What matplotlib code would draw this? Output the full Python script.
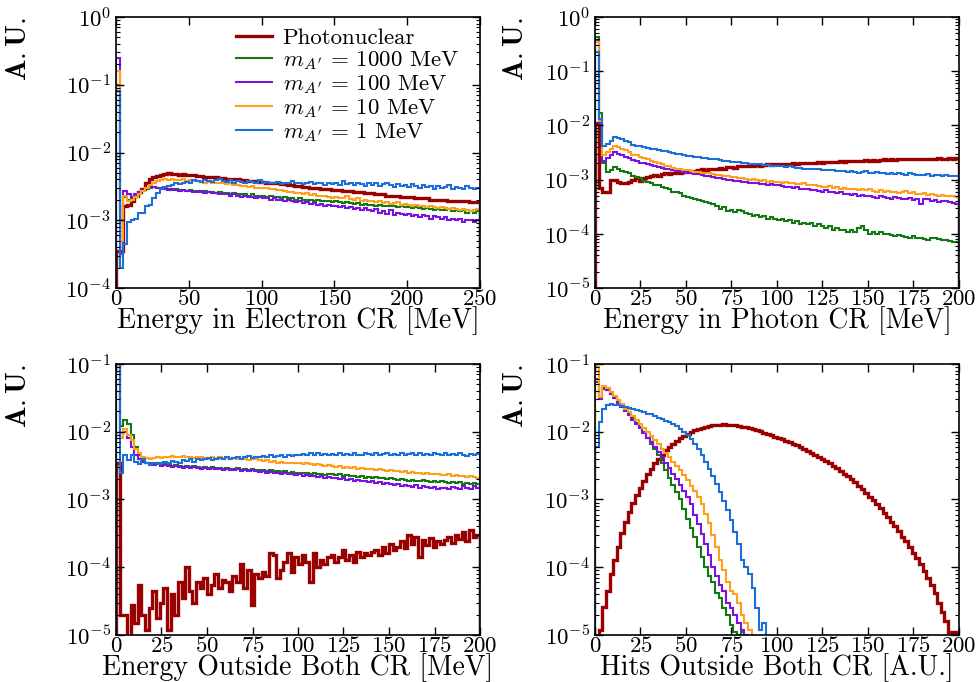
import numpy as np
import matplotlib
matplotlib.use('Agg')
import matplotlib.pyplot as plt
from matplotlib.ticker import LogLocator

plt.rcParams['font.family'] = 'serif'
plt.rcParams['font.serif'] = ['cmr10', 'DejaVu Serif']
plt.rcParams['mathtext.fontset'] = 'cm'
plt.rcParams['axes.formatter.use_mathtext'] = True
plt.rcParams['axes.unicode_minus'] = False

# Histogram contents in units of 1e-3 (A.U.)
labels = ['Photonuclear', r"$m_{A'}$ = 1000 MeV", r"$m_{A'}$ = 100 MeV",
          r"$m_{A'}$ = 10 MeV", r"$m_{A'}$ = 1 MeV"]
colors = ['#9a0000', '#137a13', '#7a12e0', '#ffa01a', '#1a70d8']
widths = [2.4, 1.5, 1.5, 1.5, 1.5]

# --- Energy in Electron CR, 2.5 MeV bins, 0-250 MeV
ecr_width = 2.5
ecr_pn = [0.35, 0.35, 1.6, 1.7, 1.9, 2.3, 2.6, 2.9, 3.5, 4.0,
          4.3, 4.5, 4.7, 4.8, 4.9, 4.8, 4.8, 4.7, 4.8, 4.7,
          4.6, 4.6, 4.5, 4.5, 4.4, 4.4, 4.3, 4.3, 4.2, 4.2,
          4.1, 4.1, 4.0, 4.0, 3.9, 3.9, 3.8, 3.8, 3.8, 3.7,
          3.7, 3.6, 3.6, 3.5, 3.5, 3.4, 3.4, 3.3, 3.3, 3.2,
          3.2, 3.1, 3.1, 3.0, 3.0, 3.0, 2.9, 2.9, 2.9, 2.8,
          2.8, 2.8, 2.7, 2.7, 2.7, 2.6, 2.6, 2.6, 2.5, 2.5,
          2.5, 2.4, 2.4, 2.4, 2.3, 2.3, 2.3, 2.3, 2.2, 2.2,
          2.2, 2.2, 2.1, 2.1, 2.1, 2.1, 2.0, 2.0, 2.0, 2.0,
          2.0, 1.95, 1.95, 1.95, 1.9, 1.9, 1.9, 1.85, 1.85, 1.85]
ecr_1000 = [100, 1.0, 2.2, 2.0, 2.1, 2.3, 2.5, 2.7, 2.9, 3.0,
            3.1, 3.0, 3.0, 2.9, 2.9, 2.8, 2.9, 2.8, 2.8, 2.7,
            2.8, 2.7, 2.7, 2.6, 2.7, 2.6, 2.6, 2.5, 2.6, 2.5,
            2.5, 2.4, 2.5, 2.4, 2.4, 2.4, 2.3, 2.4, 2.3, 2.3,
            2.3, 2.2, 2.3, 2.2, 2.2, 2.1, 2.2, 2.1, 2.1, 2.0,
            2.1, 2.0, 2.0, 2.0, 1.95, 2.0, 1.9, 1.95, 1.9, 1.85,
            1.9, 1.85, 1.8, 1.85, 1.8, 1.75, 1.8, 1.7, 1.75, 1.7,
            1.7, 1.65, 1.7, 1.6, 1.65, 1.6, 1.6, 1.55, 1.6, 1.55,
            1.55, 1.5, 1.55, 1.5, 1.45, 1.5, 1.45, 1.4, 1.45, 1.4,
            1.4, 1.45, 1.35, 1.4, 1.35, 1.4, 1.3, 1.35, 1.3, 1.35]
ecr_100 = [250, 0.32, 2.7, 2.4, 2.2, 2.4, 2.6, 2.8, 3.0, 3.1,
           3.1, 3.0, 3.0, 2.9, 2.8, 2.9, 2.8, 2.7, 2.8, 2.7,
           2.7, 2.6, 2.6, 2.7, 2.5, 2.6, 2.5, 2.5, 2.4, 2.4,
           2.4, 2.3, 2.4, 2.3, 2.2, 2.3, 2.2, 2.2, 2.1, 2.2,
           2.1, 2.1, 2.0, 2.1, 2.0, 2.0, 1.9, 2.0, 1.9, 1.85,
           1.9, 1.8, 1.85, 1.75, 1.8, 1.7, 1.75, 1.65, 1.7, 1.6,
           1.65, 1.55, 1.6, 1.5, 1.55, 1.45, 1.5, 1.4, 1.5, 1.4,
           1.35, 1.45, 1.3, 1.35, 1.25, 1.4, 1.2, 1.3, 1.25, 1.2,
           1.25, 1.15, 1.2, 1.1, 1.2, 1.15, 1.05, 1.15, 1.1, 1.05,
           1.1, 1.0, 1.05, 1.0, 1.05, 0.95, 1.0, 1.0, 0.95, 1.0]
ecr_10 = [160, 0.5, 2.3, 1.9, 2.0, 2.2, 2.4, 2.7, 3.0, 3.3,
          3.6, 3.8, 3.9, 4.0, 3.9, 4.0, 3.9, 3.9, 4.0, 3.8,
          3.9, 3.8, 3.8, 3.7, 3.6, 3.7, 3.5, 3.6, 3.5, 3.5,
          3.4, 3.5, 3.3, 3.3, 3.2, 3.2, 3.1, 3.2, 3.0, 3.0,
          2.95, 3.0, 2.85, 2.9, 2.75, 2.8, 2.7, 2.6, 2.65, 2.5,
          2.55, 2.45, 2.5, 2.35, 2.4, 2.3, 2.25, 2.3, 2.2, 2.15,
          2.2, 2.1, 2.15, 2.3, 2.05, 2.0, 2.1, 1.95, 2.0, 1.9,
          1.95, 1.85, 1.9, 1.8, 1.85, 1.75, 1.8, 1.85, 1.7, 1.75,
          1.7, 1.65, 1.7, 1.6, 1.65, 1.55, 1.6, 1.55, 1.5, 1.55,
          1.5, 1.45, 1.5, 1.45, 1.4, 1.45, 1.4, 1.35, 1.4, 1.45]
ecr_1 = [80, 0.2, 0.45, 0.95, 1.0, 1.05, 1.3, 1.3, 1.6, 1.7,
         2.1, 2.5, 2.9, 3.1, 3.2, 3.3, 3.5, 3.4, 3.6, 3.7,
         3.6, 3.9, 3.8, 3.7, 3.9, 3.8, 3.7, 3.9, 4.0, 3.8,
         3.7, 3.9, 3.6, 3.8, 3.7, 3.6, 3.8, 3.7, 3.6, 3.9,
         3.5, 3.7, 3.6, 3.5, 3.7, 3.4, 3.6, 3.5, 3.8, 3.5,
         3.6, 3.4, 3.5, 3.7, 3.4, 3.5, 3.6, 3.3, 3.5, 3.4,
         3.6, 3.3, 3.8, 3.4, 3.5, 3.3, 3.6, 3.4, 3.2, 3.5,
         3.3, 3.5, 3.2, 3.4, 3.6, 3.3, 3.1, 3.4, 3.2, 3.3,
         3.1, 3.4, 3.2, 3.0, 3.3, 3.1, 3.2, 2.9, 3.2, 3.0,
         3.1, 3.3, 2.9, 3.1, 3.0, 2.9, 3.2, 3.0, 2.9, 3.0]

# --- Energy in Photon CR, 2 MeV bins, 0-200 MeV
pcr_width = 2.0
pcr_pn = [11, 0.7, 0.6, 0.6, 1.0, 1.0, 0.9, 0.85, 0.85, 0.9,
          1.0, 1.05, 0.95, 1.05, 1.1, 1.15, 1.2, 1.15, 1.25, 1.3,
          1.25, 1.3, 1.35, 1.3, 1.4, 1.45, 1.4, 1.45, 1.5, 1.55,
          1.5, 1.55, 1.6, 1.6, 1.65, 1.6, 1.7, 1.7, 1.65, 1.75,
          1.75, 1.8, 1.75, 1.8, 1.85, 1.8, 1.85, 1.9, 1.85, 1.9,
          1.9, 1.95, 1.9, 1.95, 2.0, 1.95, 2.0, 2.05, 2.0, 2.05,
          2.05, 2.1, 2.05, 2.1, 2.15, 2.1, 2.15, 2.2, 2.15, 2.2,
          2.2, 2.25, 2.2, 2.25, 2.3, 2.25, 2.3, 2.25, 2.3, 2.35,
          2.3, 2.35, 2.3, 2.35, 2.4, 2.35, 2.4, 2.35, 2.4, 2.45,
          2.4, 2.45, 2.4, 2.45, 2.5, 2.45, 2.45, 2.5, 2.45, 2.5]
pcr_1000 = [430, 17, 2.0, 1.4, 1.5, 1.7, 1.6, 1.45, 1.4, 1.3,
            1.15, 1.1, 1.05, 0.95, 0.9, 0.85, 0.8, 0.78, 0.72, 0.7,
            0.66, 0.6, 0.58, 0.56, 0.5, 0.48, 0.46, 0.44, 0.42, 0.4,
            0.39, 0.37, 0.35, 0.33, 0.29, 0.31, 0.26, 0.28, 0.25, 0.27,
            0.26, 0.24, 0.23, 0.21, 0.22, 0.2, 0.21, 0.19, 0.2, 0.19,
            0.18, 0.19, 0.17, 0.18, 0.16, 0.17, 0.15, 0.16, 0.15, 0.16,
            0.14, 0.15, 0.14, 0.13, 0.14, 0.12, 0.13, 0.12, 0.12, 0.11,
            0.12, 0.11, 0.13, 0.14, 0.12, 0.1, 0.11, 0.1, 0.11, 0.1,
            0.1, 0.095, 0.09, 0.095, 0.09, 0.088, 0.085, 0.09, 0.082, 0.085,
            0.08, 0.078, 0.082, 0.085, 0.08, 0.076, 0.078, 0.075, 0.072, 0.07]
pcr_100 = [380, 11, 2.2, 2.5, 2.8, 3.2, 3.0, 2.8, 2.6, 2.5,
           2.3, 2.2, 2.05, 2.0, 1.9, 1.85, 1.75, 1.7, 1.65, 1.6,
           1.55, 1.5, 1.45, 1.42, 1.4, 1.35, 1.3, 1.28, 1.25, 1.2,
           1.18, 1.15, 1.1, 1.08, 1.05, 1.02, 1.0, 0.98, 0.96, 0.95,
           0.92, 0.9, 0.88, 0.85, 0.87, 0.83, 0.84, 0.8, 0.82, 0.79,
           0.8, 0.76, 0.74, 0.72, 0.7, 0.72, 0.68, 0.66, 0.68, 0.64,
           0.65, 0.62, 0.6, 0.63, 0.58, 0.6, 0.56, 0.58, 0.55, 0.54,
           0.52, 0.55, 0.5, 0.52, 0.49, 0.5, 0.48, 0.46, 0.5, 0.47,
           0.46, 0.44, 0.47, 0.45, 0.43, 0.44, 0.46, 0.42, 0.44, 0.36,
           0.43, 0.44, 0.4, 0.42, 0.39, 0.4, 0.41, 0.38, 0.37, 0.36]
pcr_10 = [340, 12, 2.8, 3.2, 3.6, 4.2, 4.0, 3.7, 3.5, 3.2,
          2.9, 2.8, 2.6, 2.5, 2.35, 2.2, 2.1, 2.0, 1.9, 1.8,
          1.75, 1.65, 1.6, 1.55, 1.5, 1.5, 1.45, 1.4, 1.38, 1.35,
          1.3, 1.32, 1.25, 1.2, 1.22, 1.15, 1.18, 1.1, 1.12, 1.05,
          1.08, 1.02, 1.0, 1.03, 0.98, 0.95, 0.97, 0.92, 0.94, 0.9,
          0.92, 0.88, 0.9, 0.85, 0.88, 0.83, 0.82, 0.85, 0.8, 0.78,
          0.8, 0.76, 0.74, 0.72, 0.75, 0.7, 0.72, 0.68, 0.7, 0.67,
          0.68, 0.66, 0.64, 0.67, 0.63, 0.66, 0.62, 0.6, 0.64, 0.6,
          0.62, 0.58, 0.6, 0.57, 0.59, 0.62, 0.56, 0.58, 0.55, 0.54,
          0.56, 0.53, 0.55, 0.52, 0.5, 0.52, 0.5, 0.49, 0.5, 0.48]
pcr_1 = [230, 13, 4.2, 4.5, 5.2, 6.2, 5.8, 5.5, 5.2, 5.0,
         4.4, 4.2, 4.1, 4.0, 3.8, 3.7, 3.6, 3.5, 3.4, 3.3,
         3.2, 3.1, 3.0, 2.95, 2.85, 2.75, 2.7, 2.65, 2.6, 2.55,
         2.5, 2.45, 2.4, 2.35, 2.3, 2.25, 2.2, 2.15, 2.1, 2.1,
         2.05, 2.0, 1.95, 1.95, 1.9, 1.9, 1.85, 1.85, 1.8, 1.8,
         1.8, 1.75, 1.7, 1.75, 1.7, 1.65, 1.65, 1.6, 1.6, 1.58,
         1.55, 1.58, 1.5, 1.52, 1.48, 1.5, 1.45, 1.42, 1.45, 1.4,
         1.42, 1.38, 1.35, 1.4, 1.45, 1.35, 1.3, 1.38, 1.32, 1.3,
         1.28, 1.32, 1.25, 1.3, 1.28, 1.22, 1.3, 1.25, 1.2, 1.24,
         1.22, 1.25, 1.18, 1.2, 1.22, 1.15, 1.2, 1.18, 1.15, 1.18]

# --- Energy outside both CR, 2 MeV bins, 0-200 MeV
out_width = 2.0
out_pn = [3.5, 0.02, 0.02, 0.0, 0.028, 0.015, 0.055, 0.02, 0.012, 0.025,
          0.045, 0.018, 0.03, 0.05, 0.012, 0.04, 0.02, 0.06, 0.035, 0.1,
          0.045, 0.03, 0.06, 0.05, 0.07, 0.04, 0.055, 0.08, 0.05, 0.065,
          0.06, 0.045, 0.075, 0.06, 0.11, 0.05, 0.09, 0.028, 0.08, 0.07,
          0.085, 0.075, 0.16, 0.15, 0.07, 0.09, 0.12, 0.16, 0.085, 0.14,
          0.11, 0.15, 0.12, 0.06, 0.16, 0.1, 0.13, 0.11, 0.14, 0.15,
          0.12, 0.14, 0.18, 0.13, 0.15, 0.12, 0.17, 0.14, 0.16, 0.15,
          0.17, 0.18, 0.15, 0.2, 0.16, 0.22, 0.18, 0.2, 0.24, 0.19,
          0.3, 0.22, 0.28, 0.14, 0.25, 0.21, 0.27, 0.2, 0.24, 0.22,
          0.25, 0.28, 0.23, 0.3, 0.26, 0.33, 0.24, 0.35, 0.28, 0.3]
out_1000 = [300, 12, 15, 13, 9, 6, 4.5, 3.8, 3.5, 3.4,
            3.3, 3.4, 3.2, 3.3, 3.2, 3.1, 3.2, 3.1, 3.0, 3.1,
            3.0, 3.1, 3.0, 2.95, 3.0, 2.9, 3.0, 2.9, 2.95, 2.85,
            2.9, 2.85, 2.8, 2.9, 2.75, 2.8, 2.7, 2.8, 2.75, 2.7,
            2.7, 2.65, 2.7, 2.6, 2.65, 2.55, 2.6, 2.5, 2.55, 2.5,
            2.5, 2.45, 2.5, 2.4, 2.45, 2.35, 2.4, 2.3, 2.4, 2.35,
            2.3, 2.35, 2.25, 2.3, 2.2, 2.25, 2.15, 2.2, 2.1, 2.15,
            2.1, 2.15, 2.05, 2.1, 2.0, 2.05, 2.0, 1.95, 2.0, 1.95,
            1.9, 1.95, 1.9, 1.85, 1.95, 1.85, 1.8, 1.85, 1.8, 1.85,
            1.8, 1.75, 1.8, 1.75, 1.8, 1.7, 1.75, 1.7, 1.75, 1.72]
out_100 = [300, 8.0, 10.0, 8.0, 6.0, 4.5, 3.9, 3.6, 3.4, 3.3,
           3.2, 3.3, 3.1, 3.2, 3.1, 3.0, 3.1, 3.0, 2.95, 3.0,
           2.9, 3.0, 2.9, 2.85, 2.9, 2.8, 2.9, 2.8, 2.85, 2.75,
           2.8, 2.75, 2.7, 2.8, 2.65, 2.7, 2.6, 2.7, 2.6, 2.55,
           2.6, 2.5, 2.55, 2.45, 2.5, 2.4, 2.45, 2.35, 2.4, 2.3,
           2.35, 2.25, 2.3, 2.2, 2.25, 2.15, 2.2, 2.1, 2.15, 2.05,
           2.1, 2.0, 2.05, 1.95, 2.0, 1.9, 1.95, 1.85, 1.9, 1.8,
           1.85, 1.75, 1.8, 1.7, 1.75, 1.7, 1.65, 1.7, 1.6, 1.65,
           1.6, 1.55, 1.65, 1.5, 1.6, 1.55, 1.5, 1.55, 1.45, 1.5,
           1.5, 1.45, 1.55, 1.5, 1.45, 1.6, 1.5, 1.45, 1.6, 1.5]
out_10 = [300, 8.0, 11.0, 9.0, 7.5, 5.5, 4.8, 4.3, 4.1, 4.0,
          4.1, 4.2, 4.1, 4.3, 4.2, 4.4, 4.3, 4.2, 4.4, 4.3,
          4.2, 4.1, 4.3, 4.2, 4.1, 4.0, 4.2, 4.1, 4.2, 4.0,
          4.1, 4.0, 4.1, 3.9, 4.0, 3.9, 3.8, 4.0, 3.9, 3.8,
          3.7, 3.8, 3.6, 3.7, 3.5, 3.6, 3.5, 3.4, 3.5, 3.4,
          3.4, 3.3, 3.4, 3.3, 3.2, 3.3, 3.2, 3.1, 3.2, 3.1,
          3.0, 3.1, 2.95, 3.0, 2.9, 3.0, 2.85, 2.9, 2.8, 2.85,
          2.8, 2.75, 2.8, 2.7, 2.65, 2.7, 2.6, 2.65, 2.55, 2.6,
          2.5, 2.55, 2.45, 2.5, 2.4, 2.45, 2.35, 2.4, 2.35, 2.3,
          2.3, 2.35, 2.25, 2.3, 2.2, 2.25, 2.15, 2.2, 2.15, 2.1]
out_1 = [300, 2.5, 4.5, 3.8, 4.6, 3.6, 3.3, 4.0, 3.4, 3.2,
         3.4, 3.3, 3.5, 3.6, 3.4, 3.7, 3.6, 3.5, 3.8, 3.7,
         3.9, 3.6, 4.0, 3.8, 3.9, 4.1, 3.8, 4.0, 4.1, 3.9,
         4.2, 4.0, 4.1, 4.3, 4.0, 4.2, 4.4, 4.1, 4.3, 4.2,
         4.4, 4.2, 4.5, 4.3, 4.4, 4.6, 4.3, 4.5, 4.4, 4.6,
         4.5, 4.7, 4.5, 4.8, 4.6, 4.9, 4.6, 4.7, 4.5, 4.7,
         4.6, 4.8, 4.5, 4.7, 4.6, 4.8, 4.5, 4.6, 4.8, 4.7,
         4.5, 4.8, 4.6, 4.7, 4.9, 4.6, 4.7, 4.5, 4.8, 4.6,
         4.7, 4.9, 4.6, 4.8, 4.6, 4.7, 4.5, 4.8, 4.7, 4.6,
         4.8, 4.6, 4.7, 4.5, 4.8, 4.6, 4.4, 4.7, 4.6, 4.7]

# --- Hits outside both CR, 2-hit bins
hit_width = 2.0
hit_pn = [0.0, 0.012, 0.026, 0.045, 0.08, 0.13, 0.2, 0.32, 0.46, 0.65,
          0.88, 1.15, 1.5, 1.9, 2.35, 2.85, 3.4, 4.0, 4.6, 5.3,
          6.0, 6.7, 7.4, 8.1, 8.8, 9.4, 10.0, 10.5, 11.0, 11.4,
          11.8, 12.1, 12.4, 12.6, 12.7, 12.8, 12.7, 12.6, 12.4, 12.2,
          11.9, 11.6, 11.2, 10.9, 10.5, 10.1, 9.7, 9.3, 8.9, 8.5,
          8.1, 7.7, 7.3, 7.0, 6.6, 6.3, 5.9, 5.6, 5.25, 4.9,
          4.6, 4.3, 4.0, 3.7, 3.4, 3.15, 2.9, 2.65, 2.4, 2.2,
          2.0, 1.8, 1.6, 1.42, 1.26, 1.1, 0.97, 0.85, 0.74, 0.64,
          0.55, 0.47, 0.4, 0.34, 0.28, 0.24, 0.2, 0.165, 0.135, 0.11,
          0.088, 0.07, 0.054, 0.042, 0.03, 0.022, 0.016, 0.011, 0.0, 0.011]
hit_1000 = [60, 32, 44, 42, 37, 33, 28, 25, 21, 18.5,
            16, 13.5, 11.8, 9.8, 8.0, 6.6, 5.5, 4.5, 3.5, 2.7,
            2.1, 1.65, 1.28, 1.0, 0.72, 0.52, 0.38, 0.28, 0.2, 0.14,
            0.1, 0.075, 0.06, 0.042, 0.035, 0.025, 0.02, 0.014, 0.011, 0.01,
            0.011]
hit_100 = [55, 30, 43, 41, 36, 31, 27, 23, 20, 17.5,
           15, 13, 11.5, 9.7, 8.2, 7.0, 5.9, 5.0, 4.2, 3.5,
           2.9, 2.4, 2.0, 1.65, 1.35, 1.1, 0.85, 0.6, 0.43, 0.31,
           0.22, 0.15, 0.1, 0.075, 0.055, 0.045, 0.03, 0.025, 0.02, 0.015,
           0.012, 0.01]
hit_10 = [90, 33, 47, 44, 39, 34, 29, 25.5, 22, 19.5,
          17, 15, 13, 11.5, 10, 8.8, 7.6, 6.6, 5.6, 4.8,
          4.2, 3.6, 3.1, 2.7, 2.3, 1.95, 1.6, 1.35, 1.1, 0.85,
          0.62, 0.45, 0.3, 0.2, 0.13, 0.09, 0.06, 0.045, 0.04, 0.03,
          0.02, 0.015, 0.012, 0.01]
hit_1 = [6, 14, 22, 25, 25.5, 25, 24.5, 24, 23, 22.5,
         21.5, 21, 20, 19.5, 18.5, 18, 17, 16.2, 15.5, 14.5,
         13.8, 13, 12, 11, 10, 9, 7.8, 6.6, 5.5, 4.5,
         3.6, 2.8, 2.2, 1.7, 1.3, 0.95, 0.7, 0.5, 0.33, 0.22,
         0.13, 0.1, 0.08, 0.05, 0.025, 0.012, 0.015]

panels = [
    (ecr_width, [ecr_pn, ecr_1000, ecr_100, ecr_10, ecr_1],
     'Energy in Electron CR [MeV]', (0, 250), (1e-4, 1), [0, 50, 100, 150, 200, 250]),
    (pcr_width, [pcr_pn, pcr_1000, pcr_100, pcr_10, pcr_1],
     'Energy in Photon CR [MeV]', (0, 200), (1e-5, 1), [0, 25, 50, 75, 100, 125, 150, 175, 200]),
    (out_width, [out_pn, out_1000, out_100, out_10, out_1],
     'Energy Outside Both CR [MeV]', (0, 200), (1e-5, 1e-1), [0, 25, 50, 75, 100, 125, 150, 175, 200]),
    (hit_width, [hit_pn, hit_1000, hit_100, hit_10, hit_1],
     'Hits Outside Both CR [A.U.]', (0, 200), (1e-5, 1e-1), [0, 25, 50, 75, 100, 125, 150, 175, 200]),
]

fig = plt.figure(figsize=(9.78, 6.82), dpi=100)
ax_w, ax_h = 364 / 978, 271 / 682
positions = [(116 / 978, 1 - 288 / 682), (595 / 978, 1 - 288 / 682),
             (116 / 978, 1 - 635 / 682), (595 / 978, 1 - 635 / 682)]
ylab_x = [-0.23, -0.18, -0.23, -0.18]

for i, (bw, series, xlabel, xlim, ylim, xticks) in enumerate(panels):
    ax = fig.add_axes([positions[i][0], positions[i][1], ax_w, ax_h])
    for vals, c, lw, lab in zip(series, colors, widths, labels):
        v = np.array(vals) * 1e-3
        edges = np.arange(len(v) + 1) * bw
        ax.stairs(v, edges, color=c, lw=lw, label=lab, baseline=0)
    ax.set_yscale('log')
    ax.set_xlim(*xlim)
    ax.set_ylim(*ylim)
    ax.set_xticks(xticks)
    ax.yaxis.set_major_locator(LogLocator(base=10, numticks=12))
    ax.yaxis.set_minor_locator(LogLocator(base=10, subs=np.arange(2, 10), numticks=12))
    ax.tick_params(which='both', direction='in', top=True, right=True, labelsize=16.5)
    ax.tick_params(which='major', length=6, width=1)
    ax.tick_params(which='minor', length=3, width=0.8)
    ax.tick_params(axis='x', which='minor', bottom=False, top=False)
    ax.tick_params(axis='x', pad=1)
    ax.set_xlabel(xlabel, fontsize=20, labelpad=-2.5)
    ax.set_ylabel(r'$\mathbf{A.U.}$', fontsize=20.5)
    ax.yaxis.set_label_coords(ylab_x[i], 0.88)
    for s in ax.spines.values():
        s.set_linewidth(1.2)
    if i == 0:
        ax.legend(loc='upper left', bbox_to_anchor=(0.33, 0.96), frameon=False,
                  fontsize=16.5, handlelength=1.55, handletextpad=0.48,
                  labelspacing=0.05, borderpad=0, borderaxespad=0)

fig.savefig('out.png', dpi=100)
